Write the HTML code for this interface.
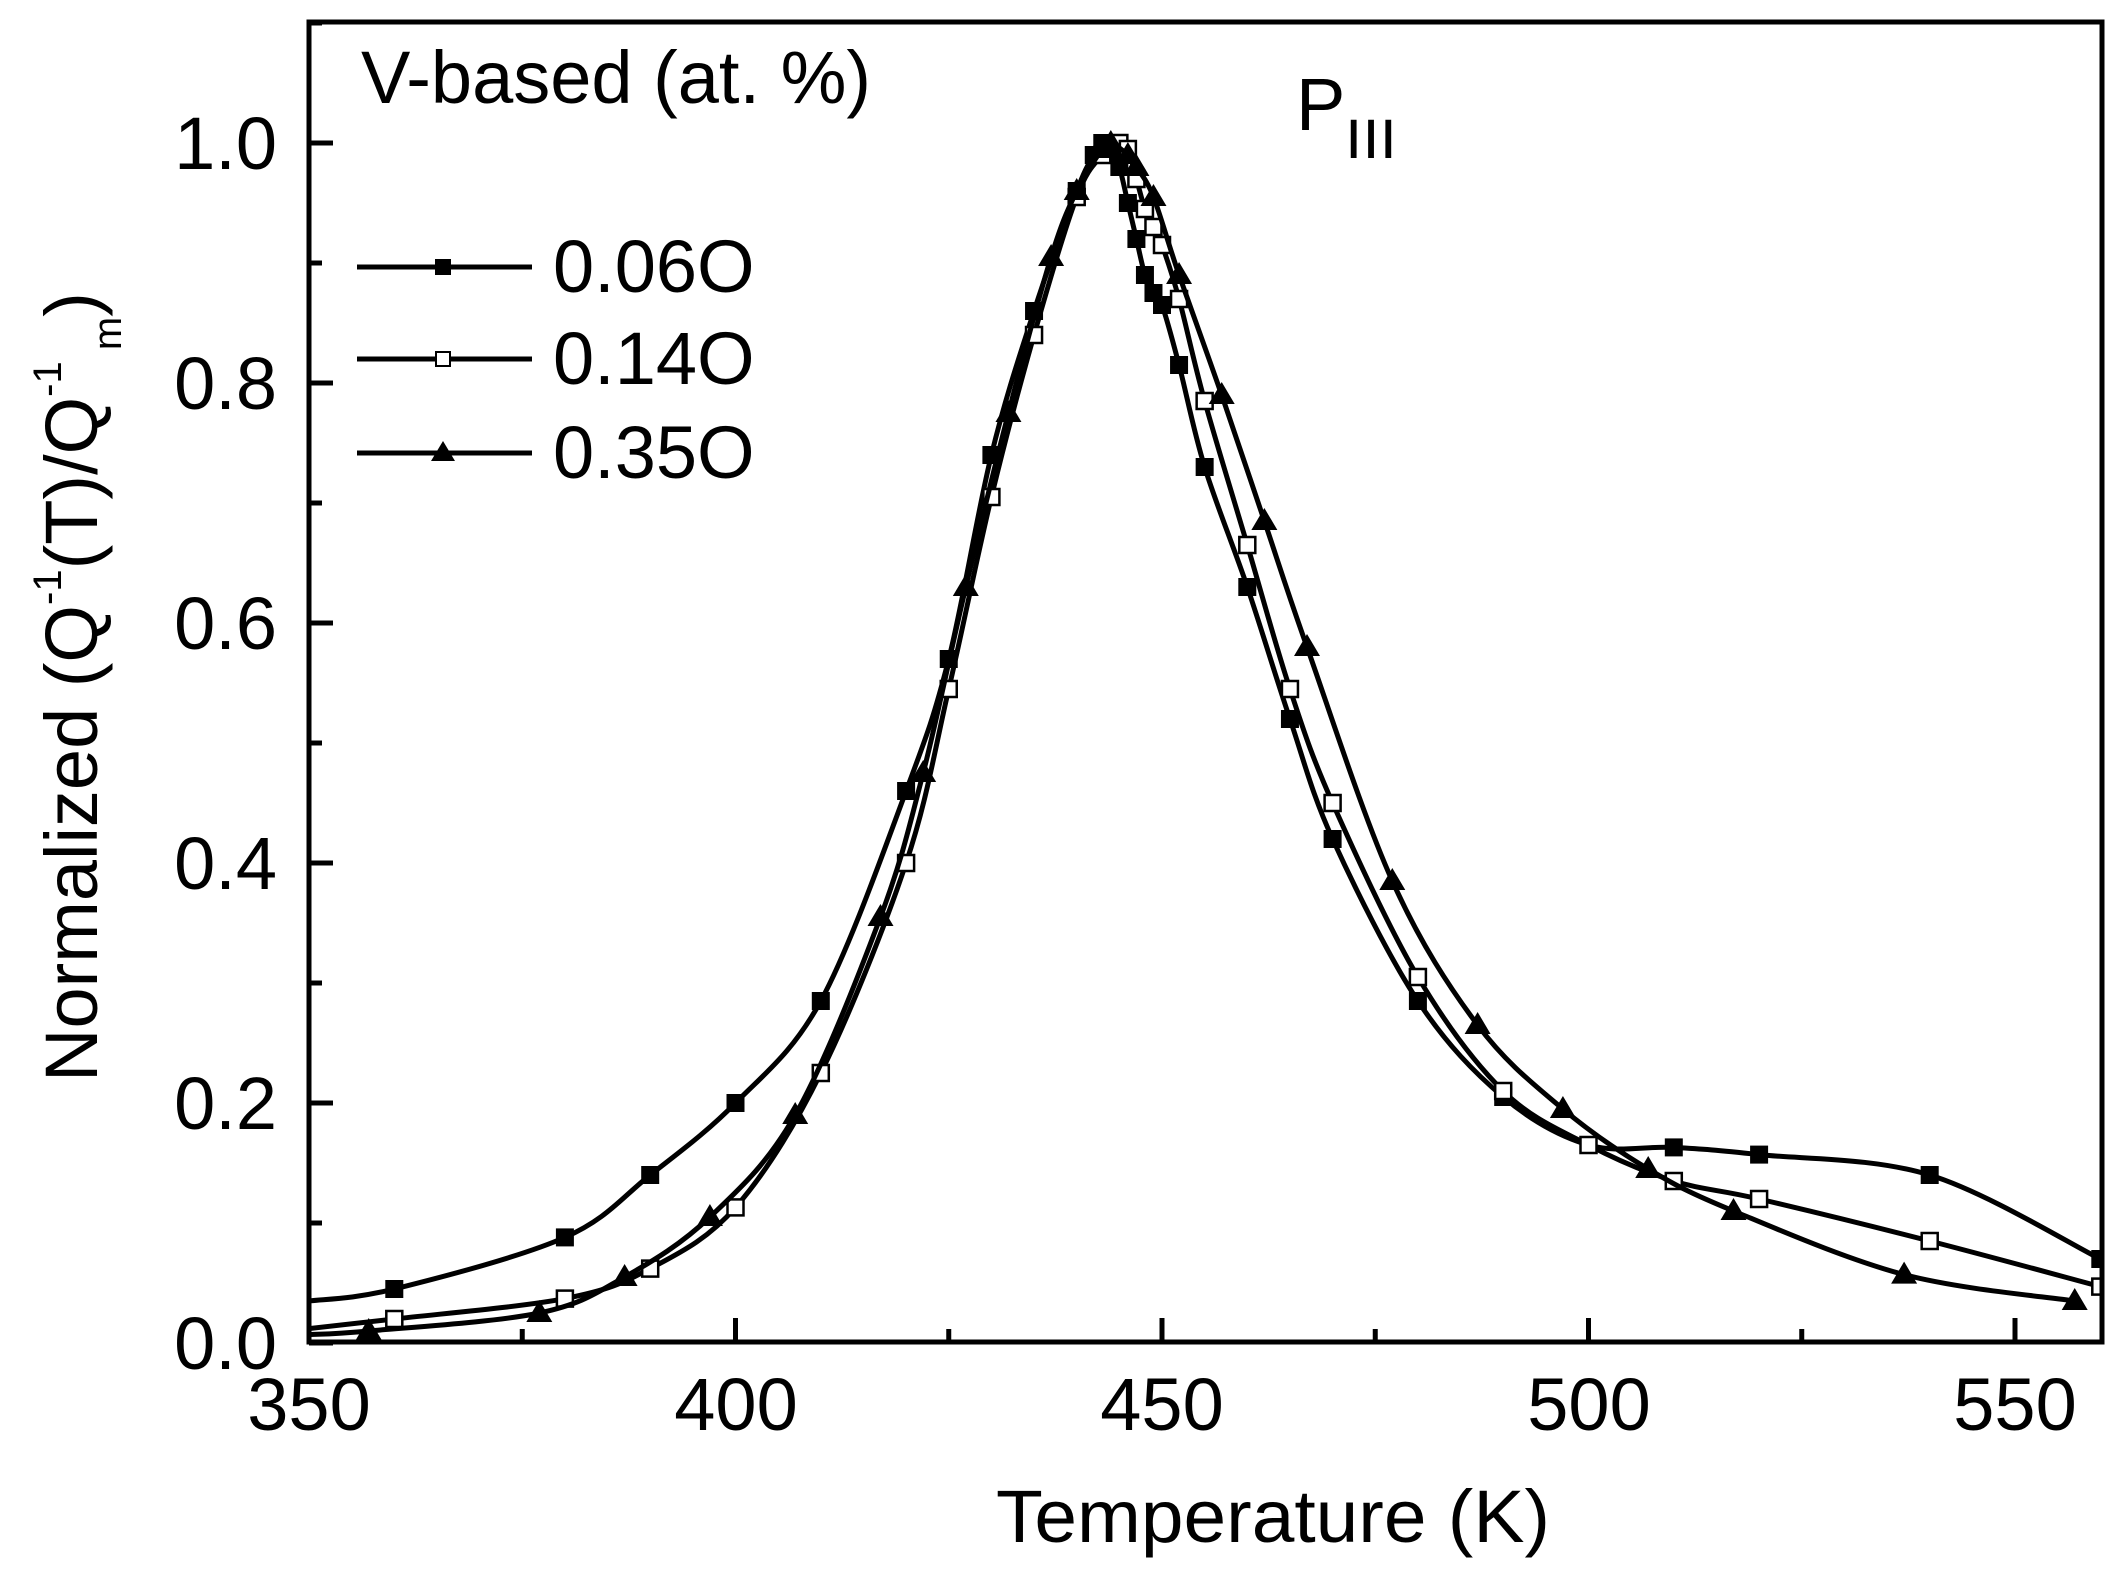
<!DOCTYPE html>
<html><head><meta charset="utf-8"><style>
html,body{margin:0;padding:0;background:#fff;}
svg{display:block;}
text{font-family:"Liberation Sans",Arial,sans-serif;fill:#000;}
</style></head><body>
<svg id="s" width="2120" height="1575" viewBox="0 0 2120 1575" xmlns="http://www.w3.org/2000/svg">
<defs><clipPath id="c"><rect x="311" y="22" width="1791" height="1320"/></clipPath></defs>
<g id="ticks"></g>
<g id="curves" clip-path="url(#c)"></g>
<rect x="309" y="22" width="1793" height="1320" fill="none" stroke="#000" stroke-width="5"/>
<g font-size="74">
<text x="277" y="169" text-anchor="end">1.0</text>
<text x="277" y="409" text-anchor="end">0.8</text>
<text x="277" y="649" text-anchor="end">0.6</text>
<text x="277" y="889" text-anchor="end">0.4</text>
<text x="277" y="1129" text-anchor="end">0.2</text>
<text x="277" y="1369" text-anchor="end">0.0</text>
<text x="309" y="1430" text-anchor="middle">350</text>
<text x="736" y="1430" text-anchor="middle">400</text>
<text x="1162" y="1430" text-anchor="middle">450</text>
<text x="1589" y="1430" text-anchor="middle">500</text>
<text x="2015" y="1430" text-anchor="middle">550</text>
<text x="996" y="1542" textLength="554" lengthAdjust="spacingAndGlyphs">Temperature (K)</text>
<text x="361" y="103">V-based (at. %)</text>
<text x="553" y="292">0.06O</text>
<text x="553" y="384">0.14O</text>
<text x="553" y="478">0.35O</text>
<text x="1296" y="130">P</text>
<text x="1345" y="158" font-family="Liberation Serif,serif" font-size="56" textLength="52" lengthAdjust="spacingAndGlyphs">III</text>
</g>
<g transform="translate(97,1082) rotate(-90)" font-size="74">
<text x="0" y="0">Normalized  (Q<tspan font-size="40" dy="-36">-1</tspan><tspan dy="36">(T)/Q</tspan><tspan font-size="40" dy="-36">-1</tspan><tspan font-size="40" dy="60"> m</tspan><tspan dy="-24">)</tspan></text>
</g>
<g id="leg" stroke="#000" stroke-width="5">
<line x1="357" y1="267" x2="532" y2="267"/>
<line x1="357" y1="359" x2="532" y2="359"/>
<line x1="357" y1="453" x2="532" y2="453"/>
</g>
<rect x="435" y="259" width="16" height="16" fill="#000"/>
<rect x="436" y="352" width="14" height="14" fill="#fff" stroke="#000" stroke-width="2"/>
<polygon points="443,441 455,461 431,461" fill="#000"/>
</svg>
<script>
var X=function(t){return 309+(t-350)*426.5/50;},Y=function(v){return 1343-v*1200;};
var NS="http://www.w3.org/2000/svg";
function el(n,a,p){var e=document.createElementNS(NS,n);for(var k in a)e.setAttribute(k,a[k]);p.appendChild(e);return e;}
var tk=document.getElementById('ticks');
for(var t=350;t<=560;t+=25){var maj=(t%50==0);el('line',{x1:X(t),x2:X(t),y1:1342,y2:1342-(maj?24:13),stroke:'#000','stroke-width':5},tk);}
for(var i=0;i<=11;i++){var v=i*0.1,maj=(i%2==0);el('line',{x1:309,x2:309+(maj?24:13),y1:Y(v),y2:Y(v),stroke:'#000','stroke-width':5},tk);}
var S=[
{m:'fs',d:[[350,0.035],[360,0.045],[380,0.088],[390,0.14],[400,0.2],[410,0.285],[420,0.46],[425,0.57],[430,0.74],[435,0.86],[440,0.96],[442,0.99],[443,1.0],[444,0.995],[445,0.98],[446,0.95],[447,0.92],[448,0.89],[449,0.875],[450,0.865],[452,0.815],[455,0.73],[460,0.63],[465,0.52],[470,0.42],[480,0.285],[490,0.205],[500,0.165],[510,0.163],[520,0.157],[540,0.14],[560,0.07]]},
{m:'os',d:[[350,0.012],[360,0.02],[380,0.037],[390,0.062],[400,0.113],[410,0.225],[420,0.4],[425,0.545],[430,0.705],[435,0.84],[440,0.955],[443,0.99],[445,1.0],[446,0.995],[447,0.97],[448,0.945],[449,0.93],[450,0.915],[452,0.87],[455,0.785],[460,0.665],[465,0.545],[470,0.45],[480,0.305],[490,0.21],[500,0.165],[510,0.135],[520,0.12],[540,0.085],[560,0.047]]},
{m:'tr',d:[[350,0.007],[357,0.01],[377,0.025],[387,0.055],[397,0.105],[407,0.19],[417,0.355],[422,0.475],[427,0.63],[432,0.775],[437,0.905],[440,0.96],[443,0.995],[444,1.0],[446,0.99],[447,0.98],[449,0.955],[452,0.89],[457,0.79],[462,0.685],[467,0.58],[477,0.385],[487,0.265],[497,0.195],[507,0.145],[517,0.11],[537,0.057],[557,0.035]]}];
var cg=document.getElementById('curves');
S.forEach(function(s){
 var p=s.d.map(function(q){return [X(q[0]),Y(q[1])];});
 var d='M'+p[0][0]+','+p[0][1];
 for(var i=0;i<p.length-1;i++){var p0=p[Math.max(i-1,0)],p1=p[i],p2=p[i+1],p3=p[Math.min(i+2,p.length-1)];
  var c1=[p1[0]+(p2[0]-p0[0])/6,p1[1]+(p2[1]-p0[1])/6],c2=[p2[0]-(p3[0]-p1[0])/6,p2[1]-(p3[1]-p1[1])/6];
  d+=' C'+c1+' '+c2+' '+p2;}
 el('path',{d:d,fill:'none',stroke:'#000','stroke-width':5},cg);
 p.forEach(function(q,i){ if(i==0&&s.d[0][0]==350)return;
  if(s.m=='fs')el('rect',{x:q[0]-9,y:q[1]-9,width:18,height:18,fill:'#000'},cg);
  else if(s.m=='os')el('rect',{x:q[0]-8,y:q[1]-8,width:16,height:16,fill:'#fff',stroke:'#000','stroke-width':2.5},cg);
  else el('polygon',{points:(q[0])+','+(q[1]-13)+' '+(q[0]+13)+','+(q[1]+9)+' '+(q[0]-13)+','+(q[1]+9),fill:'#000'},cg);
 });
});
</script>
</body></html>
